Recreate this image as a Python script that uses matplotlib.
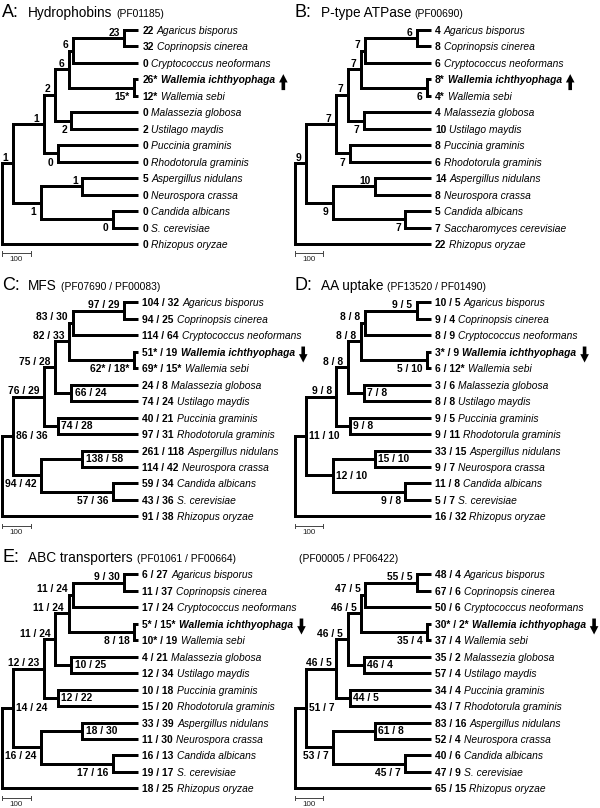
import matplotlib
matplotlib.use("Agg")
import matplotlib.pyplot as plt
from matplotlib.text import OffsetFrom

plt.rcParams["font.family"] = ["Liberation Sans", "DejaVu Sans"]

# leaves, top to bottom
species = ["Agaricus bisporus", "Coprinopsis cinerea", "Cryptococcus neoformans",
           "Wallemia ichthyophaga", "Wallemia sebi", "Malassezia globosa",
           "Ustilago maydis", "Puccinia graminis", "Rhodotorula graminis",
           "Aspergillus nidulans", "Neurospora crassa", "Candida albicans",
           "S. cerevisiae", "Rhizopus oryzae"]
species_b = species[:12] + ["Saccharomyces cerevisiae", "Rhizopus oryzae"]

# topology: clade -> (child, child), ints are leaf indices
clades = {
    "AC": (0, 1), "B3": ("AC", 2), "W": (3, 4), "B2": ("B3", "W"),
    "MU": (5, 6), "B1": ("B2", "MU"), "PR": (7, 8), "Basidio": ("B1", "PR"),
    "AN": (9, 10), "CS": (11, 12), "Asco": ("AN", "CS"),
    "Core": ("Basidio", "Asco"), "root": ("Core", 13),
}
clade_order = ["AC", "B3", "B2", "W", "B1", "MU", "Basidio", "PR", "Core", "AN", "Asco", "CS"]
# node ages (same units as the 100 scale bar)
clade_age = {"AC": 48, "B3": 232, "B2": 246, "W": 13, "B1": 294, "MU": 236,
             "Basidio": 334, "PR": 285, "Core": 443, "AN": 197, "Asco": 345,
             "CS": 89, "root": 481}

titles = [("A:", "Hydrophobins", "(PF01185)"),
          ("B:", "P-type ATPase", "(PF00690)"),
          ("C:", "MFS", "(PF07690 / PF00083)"),
          ("D:", "AA uptake", "(PF13520 / PF01490)"),
          ("E:", "ABC transporters", "(PF01061 / PF00664)"),
          ("", "", "(PF00005 / PF06422)")]

counts_a = ["22", "32", "0", "26*", "12*", "0", "2", "0", "0", "5", "0", "0", "0", "0"]
counts_b = ["4", "8", "6", "8*", "4*", "4", "10", "8", "6", "14", "8", "5", "7", "22"]
counts_c = ["104 / 32", "94 / 25", "114 / 64", "51* / 19", "69* / 15*", "24 / 8", "74 / 24",
            "40 / 21", "97 / 31", "261 / 118", "114 / 42", "59 / 34", "43 / 36", "91 / 38"]
counts_d = ["10 / 5", "9 / 4", "8 / 9", "3* / 9", "6 / 12*", "3 / 6", "8 / 8",
            "9 / 5", "9 / 11", "33 / 15", "9 / 7", "11 / 8", "5 / 7", "16 / 32"]
counts_e = ["6 / 27", "11 / 37", "17 / 24", "5* / 15*", "10* / 19", "4 / 21", "12 / 34",
            "10 / 18", "15 / 20", "33 / 39", "11 / 30", "16 / 13", "19 / 17", "18 / 25"]
counts_f = ["48 / 4", "67 / 6", "50 / 6", "30* / 2*", "37 / 4", "35 / 2", "57 / 4",
            "34 / 4", "43 / 7", "83 / 16", "52 / 4", "40 / 6", "47 / 9", "65 / 15"]

# inner node values, in clade_order
nodes_a = ["23", "6", "6", "15*", "2", "2", "1", "0", "1", "1", "1", "0"]
nodes_b = ["6", "7", "7", "6", "7", "7", "7", "7", "9", "10", "9", "7"]
nodes_c = ["97 / 29", "83 / 30", "82 / 33", "62* / 18*", "75 / 28", "66 / 24",
           "76 / 29", "74 / 28", "86 / 36", "138 / 58", "94 / 42", "57 / 36"]
nodes_d = ["9 / 5", "8 / 8", "8 / 8", "5 / 10", "8 / 8", "7 / 8",
           "9 / 8", "9 / 8", "11 / 10", "15 / 10", "12 / 10", "9 / 8"]
nodes_e = ["9 / 30", "11 / 24", "11 / 24", "8 / 18", "11 / 24", "10 / 25",
           "12 / 23", "12 / 22", "14 / 24", "18 / 30", "16 / 24", "17 / 16"]
nodes_f = ["55 / 5", "47 / 5", "46 / 5", "35 / 4", "46 / 5", "46 / 4",
           "46 / 5", "44 / 5", "51 / 7", "61 / 8", "53 / 7", "45 / 7"]

arrows = ["up", "up", "down", "down", "down", "down"]

panels = [(counts_a, nodes_a, species), (counts_b, nodes_b, species_b),
          (counts_c, nodes_c, species), (counts_d, nodes_d, species),
          (counts_e, nodes_e, species), (counts_f, nodes_f, species)]

# where each inner label sits: ul = above incoming branch, ll = below left, r = right of node
place_1 = ["ul", "ul", "ul", "ll", "ul", "ll", "ul", "ll", "ul", "ul", "ll", "ll"]
place_2 = ["ul", "ul", "ul", "ll", "ul", "r", "ul", "r", "r", "r", "ll", "ll"]
place_d = ["ul", "ul", "ul", "ll", "ul", "r", "ul", "r", "r", "r", "r", "ll"]
placements = [place_1, place_1, place_2, place_d, place_2, place_2]
label_pos = {"ul": ((-3.3, 4.7), "right"), "ll": ((-3.3, -5.8), "right"), "r": ((2.2, 0.4), "left")}

PX = 0.282   # pixels per branch unit
DY = 16.46   # pixels per leaf
FW, FH = 600, 808
tips_x = [138.0, 430.5]
tops_y = [30.0, 302.4, 574.4]
FS = 7.35

ypos = {}
def get_y(n):
    if isinstance(n, int):
        return n
    if n not in ypos:
        a, b = clades[n]
        ypos[n] = (get_y(a) + get_y(b)) / 2
    return ypos[n]

def get_x(n):
    return 0 if isinstance(n, int) else clade_age[n]

fig = plt.figure(figsize=(6, 8.08), dpi=100)

for i, (counts, nlabels, names) in enumerate(panels):
    tip = tips_x[i % 2]
    top = tops_y[i // 2]
    x0, x1 = tip - 145, tip + 5
    y0, y1 = top - 22, top + 13 * DY + 24
    ax = fig.add_axes([x0 / FW, 1 - y1 / FH, (x1 - x0) / FW, (y1 - y0) / FH])
    ax.set_xlim(145 / PX, -5 / PX)
    ax.set_ylim((y1 - top) / DY, (y0 - top) / DY)
    ax.axis("off")

    # branches
    for name in clades:
        a, b = clades[name]
        x = clade_age[name]
        ax.plot([get_x(a), x, x, get_x(b)], [get_y(a), get_y(a), get_y(b), get_y(b)],
                color="black", lw=2.15, solid_joinstyle="miter", solid_capstyle="butt")

    # inner node labels
    for name, lbl, where in zip(clade_order, nlabels, placements[i]):
        off, ha = label_pos[where]
        ax.annotate(lbl, (clade_age[name], get_y(name)), xytext=off, textcoords="offset points",
                    ha=ha, va="center_baseline", fontsize=FS, fontweight="bold")

    # leaf labels
    for j in range(len(names)):
        cnt = ax.annotate(counts[j], (0, j), xytext=(3.2, 0), textcoords="offset points",
                          ha="left", va="center_baseline", fontsize=FS, fontweight="bold")
        sp = ax.annotate(names[j], xy=(1, j), xycoords=(cnt, "data"), xytext=(2.2, 0),
                         textcoords="offset points", ha="left", va="center_baseline",
                         fontsize=FS, fontstyle="italic",
                         fontweight="bold" if j == 3 else "normal")
        if j == 3:
            ref = OffsetFrom(sp, (1, 0.5))
            lo, hi = (6.0, -7.0), (6.0, 4.5)
            tail, head = (lo, hi) if arrows[i] == "up" else (hi, lo)
            ax.annotate("", xy=head, xycoords=ref, xytext=tail, textcoords=ref,
                        arrowprops=dict(arrowstyle="simple,head_length=0.6,head_width=0.62,tail_width=0.26",
                                        mutation_scale=10, fc="black", ec="none",
                                        shrinkA=0, shrinkB=0))

    # scale bar
    root = clade_age["root"]
    sb_y = 13 + 9.5 / DY
    ax.plot([root, root - 100], [sb_y, sb_y], color="#444444", lw=0.7)
    for xe in (root, root - 100):
        ax.plot([xe, xe], [sb_y - 2.2 / DY, sb_y + 2.2 / DY], color="#444444", lw=0.7)
    ax.text(root - 50, 13 + 16 / DY, "100", ha="center", va="center", fontsize=5.8, color="#222222")

    # title
    letter, word, pf = titles[i]
    ty = -12.8 / DY
    if letter:
        ax.text(root, ty, letter, ha="left", va="baseline", fontsize=13)
        w = ax.annotate(word, (root, ty), xytext=(26 * 0.72, 0), textcoords="offset points",
                        ha="left", va="baseline", fontsize=9.8)
        ax.annotate(pf, xy=(1, ty), xycoords=(w, "data"), xytext=(2.6, 0),
                    textcoords="offset points", ha="left", va="baseline", fontsize=7.4)
    else:
        ax.annotate(pf, (root, ty), xytext=(4 * 0.72, 0), textcoords="offset points",
                    ha="left", va="baseline", fontsize=7.4)

fig.savefig("out.png", dpi=100)
